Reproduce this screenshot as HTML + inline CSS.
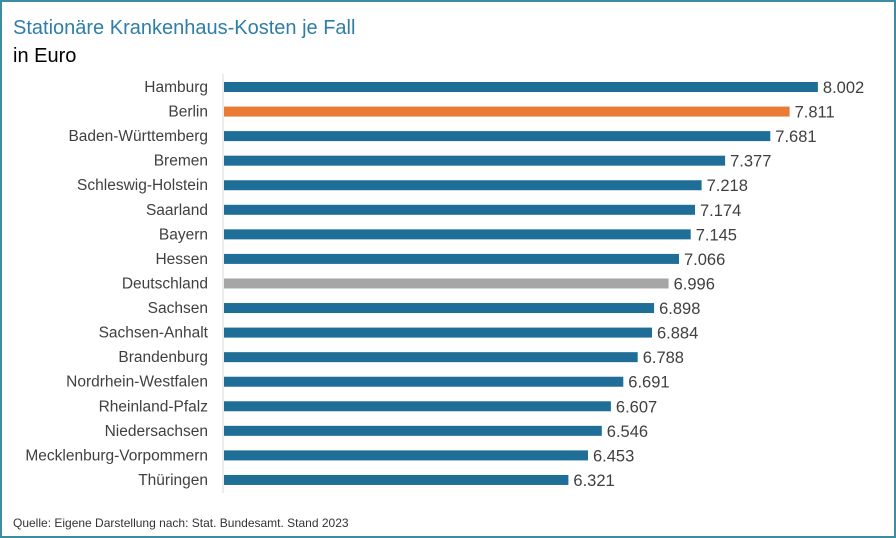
<!DOCTYPE html>
<html><head><meta charset="utf-8"><style>
body{margin:0;background:#fff}
svg{display:block}
text{font-family:"Liberation Sans",sans-serif}
.l{font-size:15.5px;fill:#404040;text-anchor:end}
.v{font-size:16.5px;fill:#404040}
</style></head><body>
<svg width="896" height="538" xmlns="http://www.w3.org/2000/svg">
<rect x="1" y="1" width="894" height="536" fill="#fff" stroke="#3d8ca3" stroke-width="2"/>
<text x="13" y="34" font-size="20" fill="#2e7ea6">Stationäre Krankenhaus-Kosten je Fall</text>
<text x="13" y="62" font-size="20" fill="#000">in Euro</text>
<line x1="223" y1="74" x2="223" y2="493" stroke="#d9d9d9" stroke-width="1"/>

<g transform="translate(0,87)"><text class="l" x="208" y="5">Hamburg</text><rect x="224" y="-5" width="593.9" height="10" fill="#1f6e98"/><text class="v" x="822.9" y="6">8.002</text></g>
<g transform="translate(0,111.56)"><text class="l" x="208" y="5">Berlin</text><rect x="224" y="-5" width="565.6" height="10" fill="#e97b35"/><text class="v" x="794.6" y="6">7.811</text></g>
<g transform="translate(0,136.12)"><text class="l" x="208" y="5">Baden-Württemberg</text><rect x="224" y="-5" width="546.3" height="10" fill="#1f6e98"/><text class="v" x="775.3" y="6">7.681</text></g>
<g transform="translate(0,160.68)"><text class="l" x="208" y="5">Bremen</text><rect x="224" y="-5" width="501.1" height="10" fill="#1f6e98"/><text class="v" x="730.1" y="6">7.377</text></g>
<g transform="translate(0,185.24)"><text class="l" x="208" y="5">Schleswig-Holstein</text><rect x="224" y="-5" width="477.6" height="10" fill="#1f6e98"/><text class="v" x="706.6" y="6">7.218</text></g>
<g transform="translate(0,209.8)"><text class="l" x="208" y="5">Saarland</text><rect x="224" y="-5" width="471.0" height="10" fill="#1f6e98"/><text class="v" x="700.0" y="6">7.174</text></g>
<g transform="translate(0,234.36)"><text class="l" x="208" y="5">Bayern</text><rect x="224" y="-5" width="466.7" height="10" fill="#1f6e98"/><text class="v" x="695.7" y="6">7.145</text></g>
<g transform="translate(0,258.92)"><text class="l" x="208" y="5">Hessen</text><rect x="224" y="-5" width="455.0" height="10" fill="#1f6e98"/><text class="v" x="684.0" y="6">7.066</text></g>
<g transform="translate(0,283.48)"><text class="l" x="208" y="5">Deutschland</text><rect x="224" y="-5" width="444.6" height="10" fill="#a6a6a6"/><text class="v" x="673.6" y="6">6.996</text></g>
<g transform="translate(0,308.04)"><text class="l" x="208" y="5">Sachsen</text><rect x="224" y="-5" width="430.1" height="10" fill="#1f6e98"/><text class="v" x="659.1" y="6">6.898</text></g>
<g transform="translate(0,332.6)"><text class="l" x="208" y="5">Sachsen-Anhalt</text><rect x="224" y="-5" width="428.0" height="10" fill="#1f6e98"/><text class="v" x="657.0" y="6">6.884</text></g>
<g transform="translate(0,357.16)"><text class="l" x="208" y="5">Brandenburg</text><rect x="224" y="-5" width="413.7" height="10" fill="#1f6e98"/><text class="v" x="642.7" y="6">6.788</text></g>
<g transform="translate(0,381.72)"><text class="l" x="208" y="5">Nordrhein-Westfalen</text><rect x="224" y="-5" width="399.3" height="10" fill="#1f6e98"/><text class="v" x="628.3" y="6">6.691</text></g>
<g transform="translate(0,406.28)"><text class="l" x="208" y="5">Rheinland-Pfalz</text><rect x="224" y="-5" width="386.9" height="10" fill="#1f6e98"/><text class="v" x="615.9" y="6">6.607</text></g>
<g transform="translate(0,430.84)"><text class="l" x="208" y="5">Niedersachsen</text><rect x="224" y="-5" width="377.8" height="10" fill="#1f6e98"/><text class="v" x="606.8" y="6">6.546</text></g>
<g transform="translate(0,455.4)"><text class="l" x="208" y="5">Mecklenburg-Vorpommern</text><rect x="224" y="-5" width="364.0" height="10" fill="#1f6e98"/><text class="v" x="593.0" y="6">6.453</text></g>
<g transform="translate(0,479.96)"><text class="l" x="208" y="5">Thüringen</text><rect x="224" y="-5" width="344.4" height="10" fill="#1f6e98"/><text class="v" x="573.4" y="6">6.321</text></g>

<text x="13" y="527" font-size="12" fill="#333">Quelle: Eigene Darstellung nach: Stat. Bundesamt. Stand 2023</text>
</svg>
</body></html>
